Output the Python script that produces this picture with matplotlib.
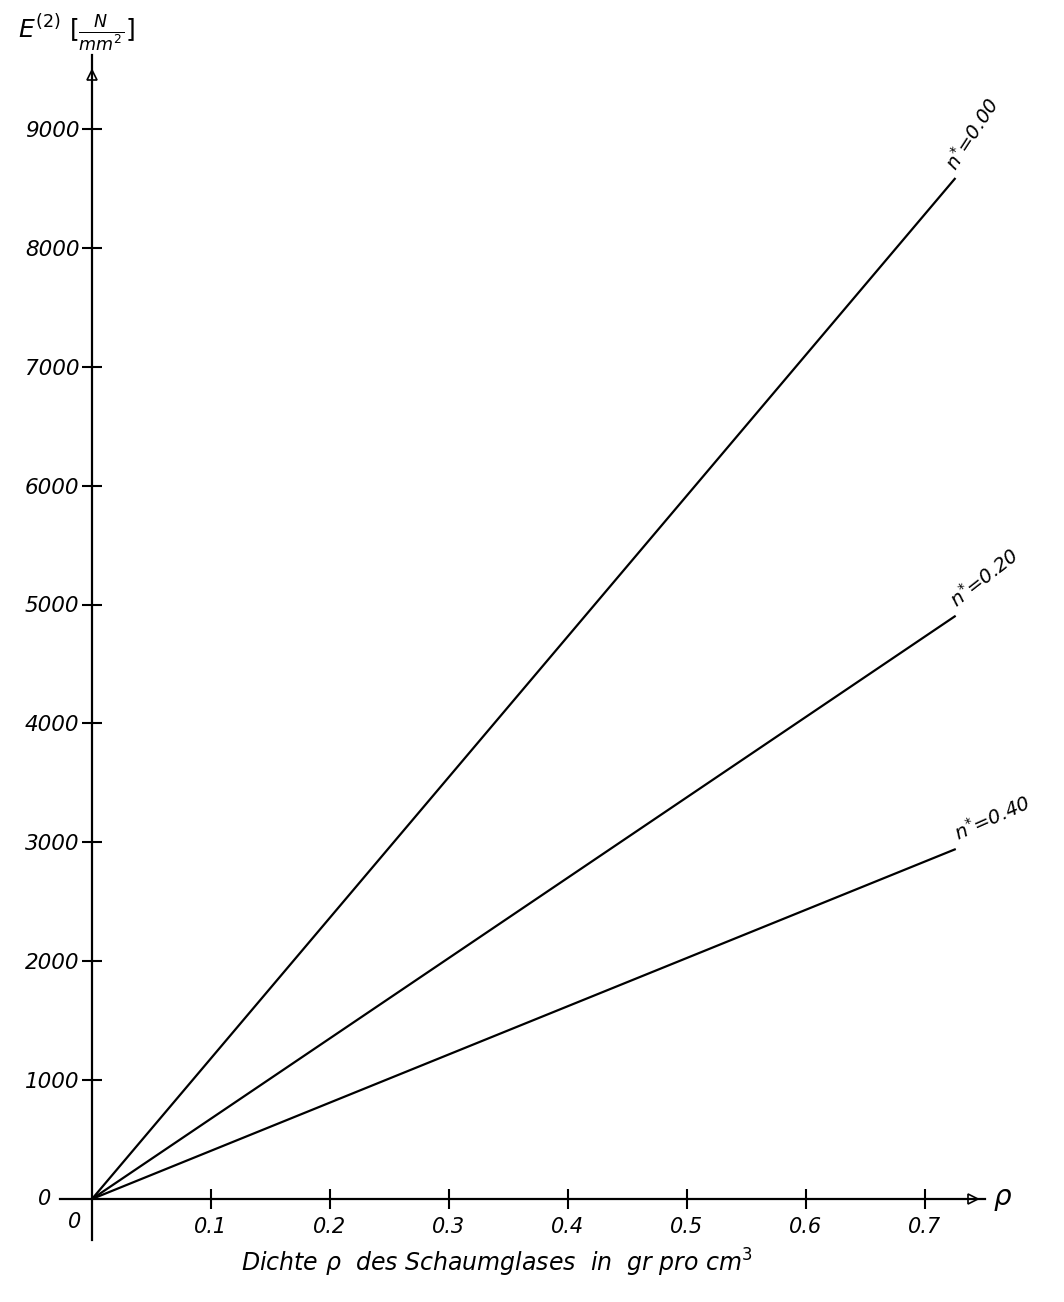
import numpy as np
import matplotlib.pyplot as plt

# Dichte rho [gr/cm^3] and E-modulus [N/mm^2] for three porosities n*
rho = [0.0, 0.725]
E_n000 = [0, 8580]
E_n020 = [0, 4900]
E_n040 = [0, 2940]
n_labels = ["0.00", "0.20", "0.40"]
label_angles = [57, 38, 24]

x_ticks = [0.1, 0.2, 0.3, 0.4, 0.5, 0.6, 0.7]
y_ticks = [1000, 2000, 3000, 4000, 5000, 6000, 7000, 8000, 9000]

plt.rcParams['font.family'] = 'DejaVu Sans'
plt.rcParams['mathtext.fontset'] = 'dejavusans'

fig = plt.figure(figsize=(10.64, 13.02), dpi=100)
ax = fig.add_axes([0, 0, 1, 1])
# pixel mapping: x=0 at 92 px, 0.1 per 119 px; E=0 at 1199 px, 1000 per 118.9 px
ax.set_xlim(-92 / 1190, (1064 - 92) / 1190)
ax.set_ylim(-(1302 - 1199) / 0.1189, 1199 / 0.1189)

for E, lab, ang in zip([E_n000, E_n020, E_n040], n_labels, label_angles):
    ax.plot(rho, E, color="black", lw=1.6)
    ax.text(rho[-1] + 0.004, E[-1] + 40, r"$n^{*}$=" + lab, rotation=ang,
            rotation_mode="anchor", ha="left", va="bottom",
            fontsize=14, style="italic")

for s in ["top", "right"]:
    ax.spines[s].set_visible(False)
ax.spines["left"].set_position(("data", 0))
ax.spines["bottom"].set_position(("data", 0))
ax.spines["left"].set_bounds(-345, 9620)
ax.spines["bottom"].set_bounds(-0.027, 0.75)
ax.spines["left"].set_linewidth(1.6)
ax.spines["bottom"].set_linewidth(1.6)

# arrow heads on the axes
ax.plot([0], [9450], marker="^", color="black", ms=7, mfc="white", mew=1.2)
ax.plot([0.74], [0], marker=">", color="black", ms=7, mfc="white", mew=1.2)

ax.set_xticks(x_ticks)
ax.set_xticklabels([str(v) for v in x_ticks], style="italic", fontsize=15)
ax.set_yticks(y_ticks)
ax.set_yticklabels([str(v) for v in y_ticks], style="italic", fontsize=15.5)
ax.tick_params(axis="both", direction="inout", length=14, width=1.5, pad=2)
ax.tick_params(axis="x", pad=6)

ax.text(-0.04, 0, "0", ha="center", va="center", fontsize=15, style="italic")
ax.text(-0.015, -190, "0", ha="center", va="center", fontsize=15, style="italic")
ax.text(0.765, 0, r"$\rho$", ha="center", va="center", fontsize=20)
ax.text(0.34, -540, r"Dichte $\rho$  des Schaumglases  in  gr pro cm$^3$",
        ha="center", va="center", fontsize=17, style="italic")
ax.text(-0.062, 9800, r"$E^{(2)}\ [\frac{N}{mm^2}]$", ha="left", va="center",
        fontsize=18)

fig.savefig("out.png", dpi=100, facecolor="white")
